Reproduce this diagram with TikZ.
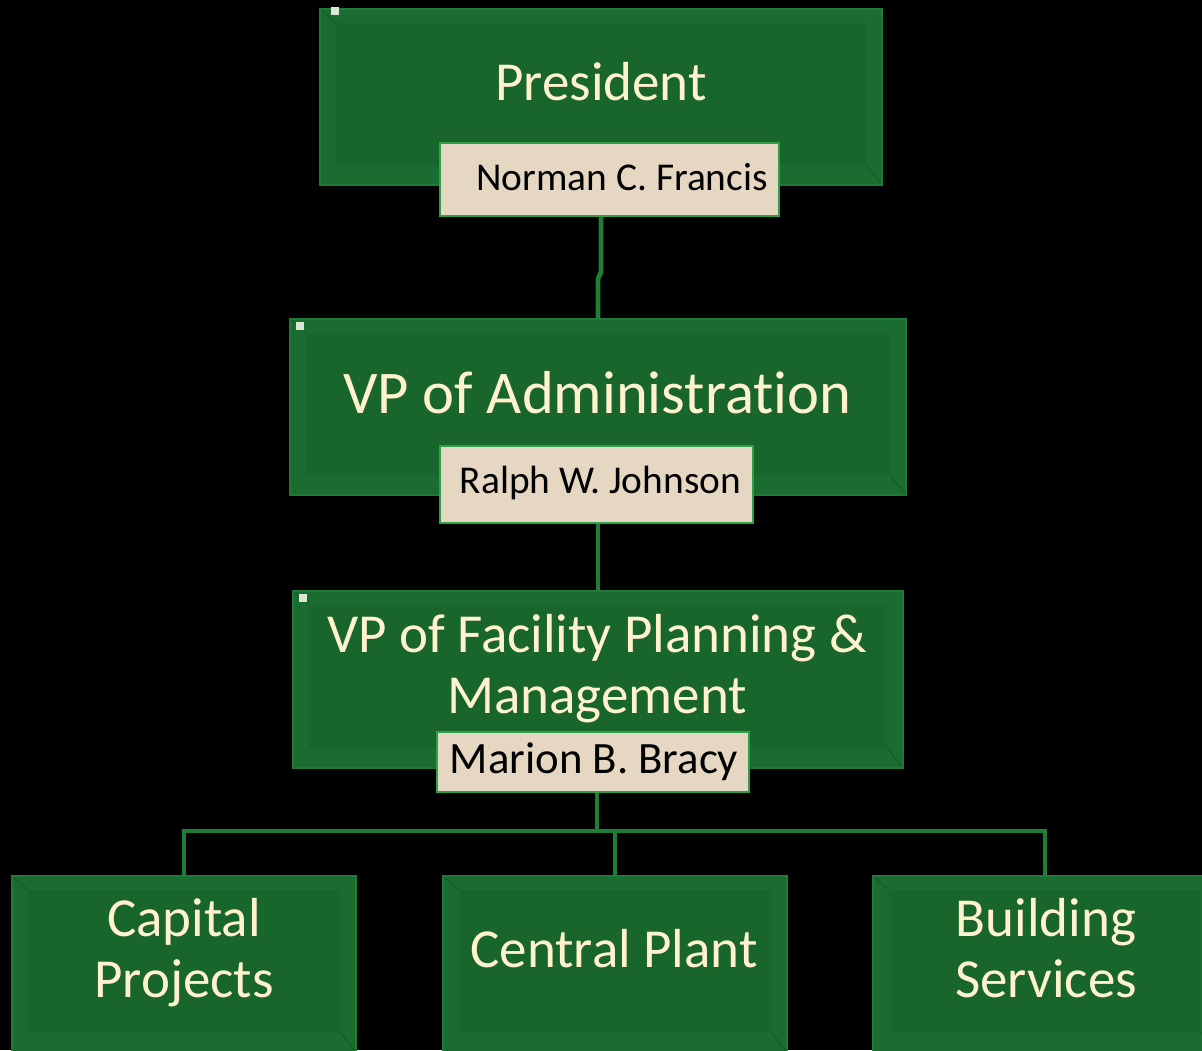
\documentclass[tikz,border=0pt]{standalone}
\usepackage{fontspec}
\setmainfont{Carlito}[Ligatures=NoCommon]
\definecolor{boxedge}{HTML}{1F7A37}
\definecolor{boxrim}{HTML}{1B6C30}
\definecolor{boxmid}{HTML}{18662B}
\definecolor{boxdark}{HTML}{165D27}
\definecolor{cream}{HTML}{FFF2CC}
\definecolor{tan}{HTML}{E6D7C2}
\definecolor{tanrim}{HTML}{2FA04A}
\definecolor{linkgreen}{HTML}{1F7D36}
\definecolor{handle}{HTML}{D9E8D2}
\begin{document}
\begin{tikzpicture}[x=0.5pt,y=-0.5pt,
  unitbox/.style n args={2}{draw=boxedge,fill=boxrim,line width=1pt,inner sep=0pt,
    minimum width=#1*0.5pt,minimum height=#2*0.5pt,
    path picture={
      \fill[boxmid] ([shift={(8pt,-7pt)}]path picture bounding box.north west)
        rectangle ([shift={(-8pt,10pt)}]path picture bounding box.south east);
      \draw[boxdark,line width=0.6pt] (path picture bounding box.north west) -- ([shift={(8pt,-7pt)}]path picture bounding box.north west);
      \draw[boxdark,line width=0.6pt] (path picture bounding box.south east) -- ([shift={(-8pt,10pt)}]path picture bounding box.south east);
    }},
  namebox/.style n args={2}{draw=tanrim,fill=tan,line width=1pt,inner sep=0pt,
    minimum width=#1*0.5pt,minimum height=#2*0.5pt},
  title/.style={text=cream,anchor=base,align=center,font=\fontsize{27.5}{30.5}\selectfont},
  bigtitle/.style={title,font=\fontsize{30.3}{34}\selectfont},
  person/.style={text=black,anchor=base,font=\fontsize{19.7}{22}\selectfont},
  bigperson/.style={person,font=\fontsize{22.4}{25}\selectfont},
  link/.style={draw=linkgreen,line width=2.4pt}]
  \fill[black] (0,0) rectangle (1202,1050);
  \clip (0,0) rectangle (1202,1050);
  \node[unitbox={562}{176}] (pres) at (601,97) {};
  \node[unitbox={616}{176}] (admin) at (598,407) {};
  \node[unitbox={610}{177}] (fac) at (598,679.5) {};
  \node[unitbox={344}{176}] (cap) at (184,964) {};
  \node[unitbox={344}{176}] (plant) at (615,964) {};
  \node[unitbox={344}{176}] (bldg) at (1045,964) {};
  \fill[handle] (331,7) rectangle (339,15);
  \fill[handle] (296,322) rectangle (304,330);
  \fill[handle] (299,594) rectangle (307,602);
  \coordinate (j1) at (601,272);
  \coordinate (j2) at (598,279);
  \coordinate (bus) at (597,831);
  \draw[link] (j1 |- pres.south) -- (j1) -- (j2) -- (admin.north -| j2);
  \draw[link] (admin.center |- admin.south) -- (fac.north);
  \draw[link] (bus |- fac.south) -- (bus);
  \draw[link] (cap.north) |- (bus) -| (bldg.north);
  \draw[link] (plant.north) -- (plant.north |- bus);
  \node[namebox={339}{73}] (presName) at (609.5,179.5) {};
  \node[namebox={313}{77}] (adminName) at (596.5,484.5) {};
  \node[namebox={312}{60}] (facName) at (593,762) {};
  \node[title] (presT) at (601,100) {President};
  \node[person] (presN) at (622,190) {Norman C. Francis};
  \node[bigtitle] (adminT) at (597.5,413) {VP of Administration};
  \node[person] (adminN) at (600.5,493) {Ralph W. Johnson};
  \node[title] (facT) at (597,713) {VP of Facility Planning \&\\Management};
  \node[bigperson] (facN) at (594,773) {Marion B. Bracy};
  \node[title] (capT) at (184,997) {Capital\\Projects};
  \node[title] (plantT) at (614,967) {Central Plant};
  \node[title] (bldgT) at (1046,997) {Building\\Services};
\end{tikzpicture}
\end{document}
